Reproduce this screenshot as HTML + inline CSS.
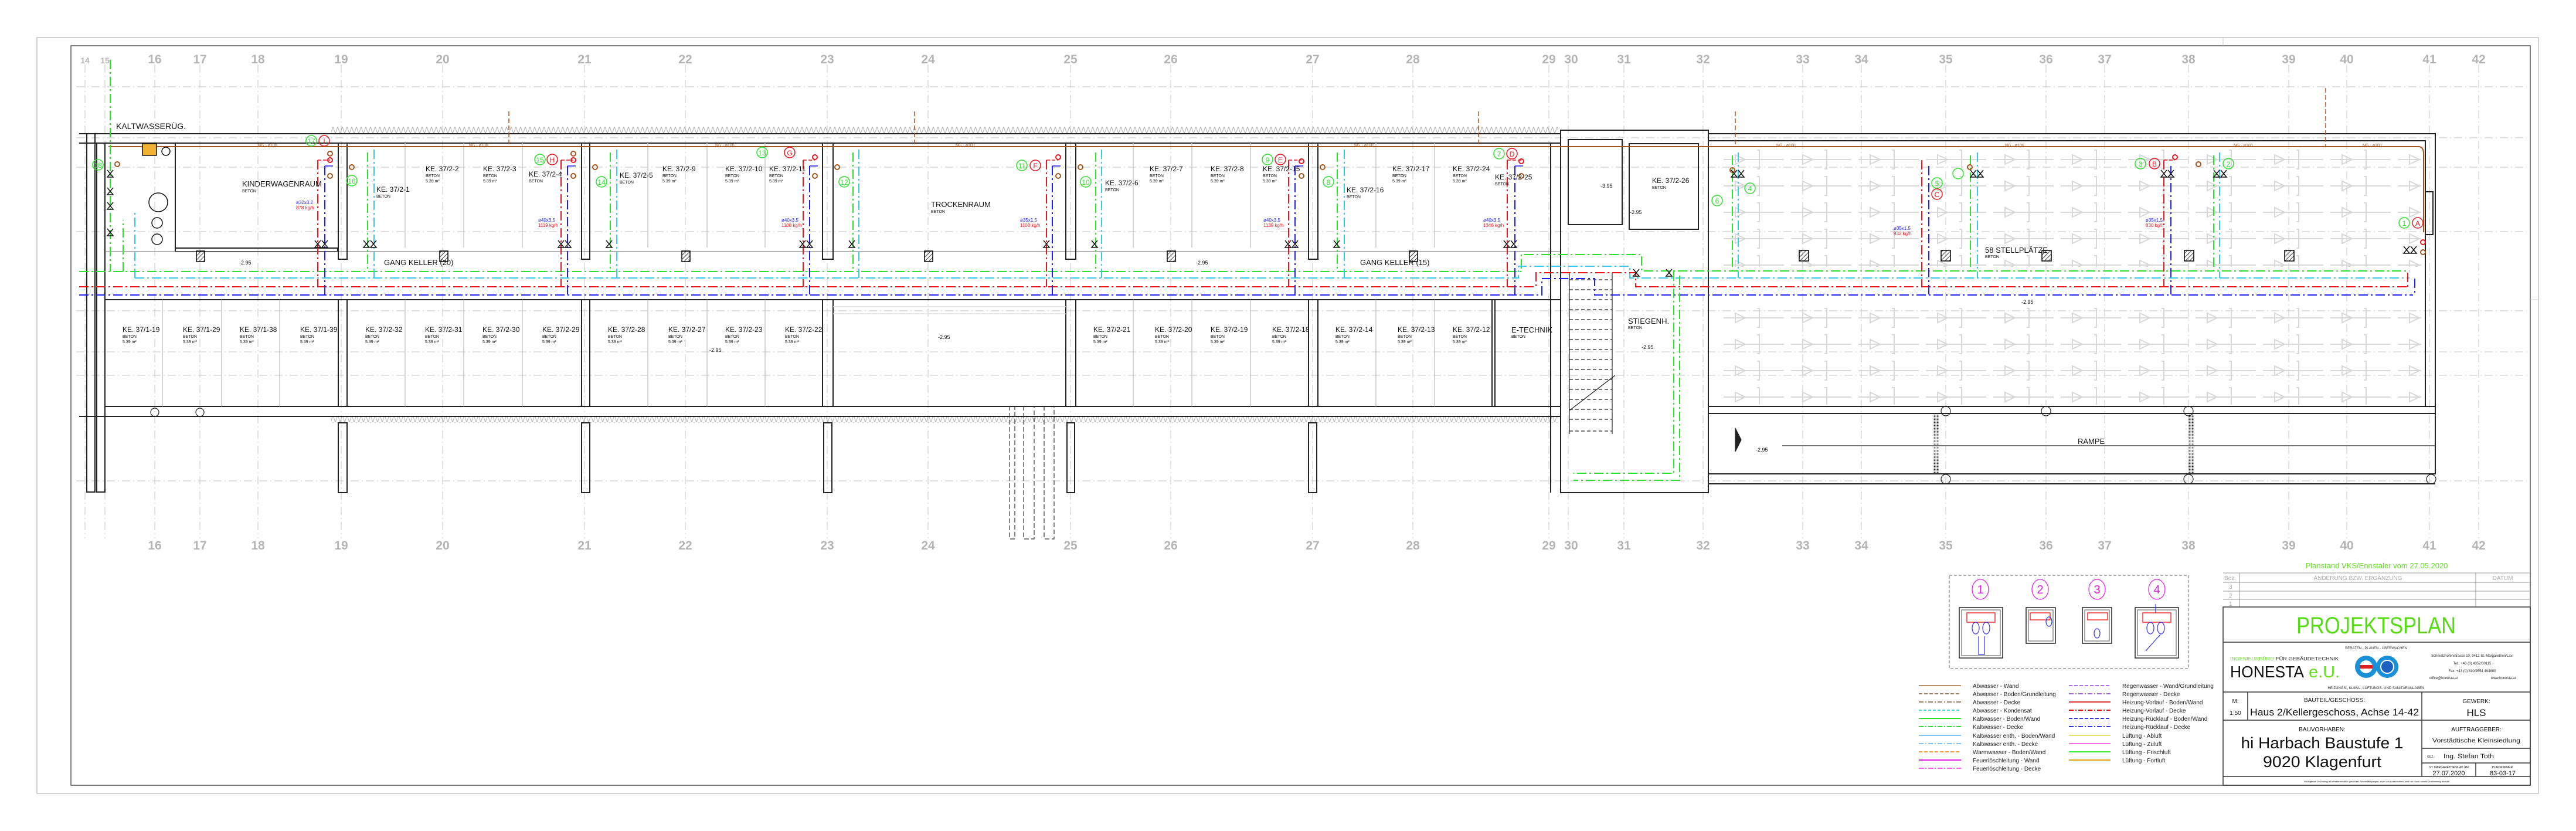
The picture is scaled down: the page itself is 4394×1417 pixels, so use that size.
<!DOCTYPE html>
<html><head><meta charset="utf-8"><style>
html,body{margin:0;padding:0;background:#fff;}
svg{display:block;font-family:"Liberation Sans",sans-serif;}
</style></head><body>
<svg width="4394" height="1417" viewBox="0 0 4394 1417" xmlns="http://www.w3.org/2000/svg">
<defs>
<pattern id="zz" x="0" y="216" width="8" height="12" patternUnits="userSpaceOnUse"><polyline points="0,0 4,12 8,0" fill="none" stroke="#aaa" stroke-width="1"/></pattern>
<pattern id="stall" x="2935" y="250" width="115" height="45" patternUnits="userSpaceOnUse">
<g fill="none" stroke="#d8d8d8" stroke-width="2"><line x1="5" y1="22" x2="108" y2="22"/><polygon points="25,14 25,30 42,22"/><polyline points="62,6 66,6 66,38 62,38"/></g></pattern>
<pattern id="hatch" width="5" height="5" patternUnits="userSpaceOnUse" patternTransform="rotate(45)"><line x1="0" y1="0" x2="0" y2="5" stroke="#000" stroke-width="1.5"/></pattern>
</defs>
<rect width="4394" height="1417" fill="#fff"/>
<!-- frames -->
<rect x="63" y="64" width="4267" height="1289" fill="none" stroke="#d0d0d0" stroke-width="2"/>
<rect x="121" y="78" width="4195" height="1261" fill="none" stroke="#555" stroke-width="1.5"/>
<line x1="4316" y1="511" x2="4330" y2="511" stroke="#ccc"/>
<line x1="3792" y1="64" x2="3792" y2="78" stroke="#ccc"/>

<!-- grid lines -->
<g stroke="#cfcfcf" stroke-width="1.2" stroke-dasharray="14,5,2,5" fill="none">
<path d="M145 110V918M179 110V918M264 110V918M341 110V918M440 110V918M582 110V918M755 110V918M997 110V918M1169 110V918M1411 110V918M1583 110V918M1826 110V918M1997 110V918M2239 110V918M2410 110V918M2642 110V918M2675 110V918M2770 110V918M2905 110V918M3075 110V918M3175 110V918M3319 110V918M3490 110V918M3590 110V918M3733 110V918M3904 110V918M4003 110V918M4144 110V918M4228 110V918"/>
<path d="M130 148H4310M130 235H4310M130 285H4310M130 395H4310M130 530H4310M130 600H4310M130 640H4310M130 820H4310"/>
</g>
<g fill="#b4b4b4" font-size="21" font-weight="bold" text-anchor="middle">
<text x="145" y="108" font-size="14">14</text><text x="179" y="108" font-size="14">15</text>
<text x="264" y="108">16</text><text x="341" y="108">17</text><text x="440" y="108">18</text><text x="582" y="108">19</text><text x="755" y="108">20</text><text x="997" y="108">21</text><text x="1169" y="108">22</text><text x="1411" y="108">23</text><text x="1583" y="108">24</text><text x="1826" y="108">25</text><text x="1997" y="108">26</text><text x="2239" y="108">27</text><text x="2410" y="108">28</text><text x="2642" y="108">29</text><text x="2680" y="108">30</text><text x="2770" y="108">31</text><text x="2905" y="108">32</text><text x="3075" y="108">33</text><text x="3175" y="108">34</text><text x="3319" y="108">35</text><text x="3490" y="108">36</text><text x="3590" y="108">37</text><text x="3733" y="108">38</text><text x="3904" y="108">39</text><text x="4003" y="108">40</text><text x="4144" y="108">41</text><text x="4228" y="108">42</text>
<text x="264" y="937">16</text><text x="341" y="937">17</text><text x="440" y="937">18</text><text x="582" y="937">19</text><text x="755" y="937">20</text><text x="997" y="937">21</text><text x="1169" y="937">22</text><text x="1411" y="937">23</text><text x="1583" y="937">24</text><text x="1826" y="937">25</text><text x="1997" y="937">26</text><text x="2239" y="937">27</text><text x="2410" y="937">28</text><text x="2642" y="937">29</text><text x="2680" y="937">30</text><text x="2770" y="937">31</text><text x="2905" y="937">32</text><text x="3075" y="937">33</text><text x="3175" y="937">34</text><text x="3319" y="937">35</text><text x="3490" y="937">36</text><text x="3590" y="937">37</text><text x="3733" y="937">38</text><text x="3904" y="937">39</text><text x="4003" y="937">40</text><text x="4144" y="937">41</text><text x="4228" y="937">42</text>
</g>

<!-- parking stall symbols -->
<rect x="2935" y="250" width="1195" height="205" fill="url(#stall)"/>
<rect x="2935" y="520" width="1195" height="170" fill="url(#stall)"/>

<!-- hatch bands -->
<rect x="565" y="216" width="2093" height="12" fill="url(#zz)"/>
<rect x="565" y="710" width="2093" height="11" fill="url(#zz)"/>

<!-- walls -->
<g fill="none" stroke="#222" stroke-width="2">
<path d="M135 228H2662M135 244H2662"/>
<path d="M148 228V839H162V228M165 244V839H179V244"/>
<path d="M299 244V423H304M299 423H576V429H299Z"/>
<path d="M179 429H2662" stroke="#888" stroke-width="1.2"/>
<path d="M179 511H2662"/>
<path d="M179 693H2662M135 710H2662"/>
<path d="M577 244V442H592V244M992 244V442H1006V244M1403 244V442H1421V244M1818 244V442H1835V244M2232 244V442H2248V244"/>
<path d="M577 511V693M592 511V693M992 511V693M1006 511V693M1403 511V693M1421 511V693M1818 511V693M1835 511V693M2232 511V693M2248 511V693M2545 511V693M2550 511V693"/>
<path d="M2645 244V840M2662 222V840H2914V222Z"/>
<path d="M2675 238H2767V383H2675ZM2779 245H2897V391H2779Z"/>
<path d="M2914 228H4154V693H2914M2914 240H4137V693M2914 705H4154M2914 825H4154M2914 808H4154V693"/>
<path d="M577 721V840H592V721ZM992 721V840H1006V721ZM1405 721V840H1419V721ZM1820 721V840H1833V721ZM2232 721V840H2246V721Z"/>
<path d="M4137 327H4150V400H4137"/>
</g>
<g stroke="#222" stroke-width="1.2" fill="none">
<path d="M3040 760H4154"/>
<path d="M3300 705V808M3305 705V808M3735 705V808M3740 705V808" stroke-width="3" stroke-dasharray="1,1.5"/>
<path d="M2677 477H2750M2677 494H2750M2677 511H2750M2677 528H2750M2677 545H2750M2677 562H2750M2677 579H2750M2677 596H2750M2677 613H2750M2677 630H2750M2677 647H2750M2677 664H2750M2677 681H2750M2677 698H2750M2677 715H2750M2677 735H2750" stroke-dasharray="6,4"/>
<path d="M2677 465V740M2750 465V740M2677 700L2755 640"/>
<circle cx="3319" cy="701" r="8"/><circle cx="3490" cy="701" r="8"/><circle cx="3733" cy="701" r="8"/><circle cx="3319" cy="817" r="8"/><circle cx="3733" cy="817" r="8"/><circle cx="4147" cy="817" r="8"/><circle cx="264" cy="703" r="7"/><circle cx="341" cy="703" r="7"/>
<path d="M2960 730V770L2970 750Z" fill="#222"/>
</g>
<!-- room partitions light -->
<g stroke="#c8c8c8" stroke-width="1.5">
<path d="M691 244V422M791 244V422M891 244V422M1105 244V422M1206 244V422M1305 244V422M1933 244V422M2033 244V422M2133 244V422M2347 244V422M2447 244V422"/>
<path d="M277 511V693M378 511V693M477 511V693M691 511V693M791 511V693M891 511V693M1105 511V693M1206 511V693M1305 511V693M1933 511V693M2033 511V693M2133 511V693M2347 511V693M2447 511V693"/>
<path d="M1421 523H1818M1421 535H1818" stroke="#ddd"/>
</g>
<!-- leerrohr -->
<g fill="none" stroke="#333" stroke-width="1.2" stroke-dasharray="8,4">
<path d="M1722 692V919H1731V692M1746 692V919H1764V692M1781 692V919H1798V692"/>
</g>
<!-- shafts -->
<g fill="url(#hatch)" stroke="#000" stroke-width="1.5">
<rect x="335" y="428" width="14" height="18"/><rect x="750" y="428" width="14" height="18"/><rect x="1163" y="428" width="14" height="18"/><rect x="1577" y="428" width="14" height="18"/><rect x="1991" y="428" width="14" height="18"/><rect x="2404" y="428" width="14" height="18"/><rect x="3069" y="427" width="16" height="18"/><rect x="3311" y="427" width="16" height="18"/><rect x="3483" y="427" width="16" height="18"/><rect x="3726" y="427" width="16" height="18"/><rect x="3897" y="427" width="16" height="18"/>
</g>

<!-- pipes: brown top -->
<path d="M185 250H4125Q4134 250 4134 262V396" fill="none" stroke="#a0561e" stroke-width="2"/>
<g fill="none" stroke="#a0561e" stroke-width="1.5" stroke-dasharray="8,4"><path d="M868 190V250M1560 190V250M2522 190V250M2960 190V250M3967 150V250"/></g>
<!-- corridor lines -->
<g fill="none" stroke-width="2" stroke-dasharray="16,5,3,5">
<path d="M135 463H2595V434H2800V462H2914H4110" stroke="#2ee02e"/>
<path d="M230 474H2590V454H2780V474H4110" stroke="#3cc8ea"/>
<path d="M135 489H2620V465H2790V489H4110" stroke="#e8141e"/>
<path d="M135 503H2630V475H2720V503H4116" stroke="#1e1ef0"/>
<path d="M2595 880" stroke="none"/>
<!-- risers -->
<path d="M542 273V489M957 273V489M1370 273V489M1785 273V489M2198 273V489M2571 273V489M3278 273V489M3691 273V489M4107 465V489" stroke="#e8141e"/>
<path d="M554 283V503M968 283V503M1381 283V503M1795 283V503M2209 283V503M2584 283V503M3290 283V503M3703 283V503M4119 475V503" stroke="#1e1ef0"/>
<path d="M188 102V463M627 260V463M1041 260V463M1455 260V463M1869 260V463M2281 260V463M2955 265V463M3361 265V463M3776 265V463M2855 463V807H2684M2865 470V819H2684" stroke="#2ee02e"/>
<path d="M638 255V474M1052 255V474M1465 255V474M1879 255V474M2293 255V474M2965 260V474M3373 260V474M3786 260V474M230 474V360" stroke="#3cc8ea"/>
<path d="M210 463V375" stroke="#2ee02e"/>
</g>
<g fill="none" stroke-width="1.6">
<path d="M542 273H563M957 273H978M1370 273H1390M1785 273H1805M2198 273H2220M2571 273H2595M3691 273H3710" stroke="#e8141e" stroke-dasharray="6,3"/>
<path d="M554 283H568M968 283H982M1381 283H1395M1795 283H1809M2209 283H2223M2584 283H2598" stroke="#1e1ef0"/>
</g>
<!-- small valves/ring markers -->
<g fill="none" stroke-width="2">
<g stroke="#e8141e"><circle cx="563" cy="273" r="4"/><circle cx="978" cy="273" r="4"/><circle cx="1390" cy="268" r="4"/><circle cx="1805" cy="268" r="4"/><circle cx="2220" cy="275" r="4"/><circle cx="2595" cy="275" r="4"/><circle cx="3710" cy="268" r="4"/><circle cx="4133" cy="413" r="4"/></g>
<g stroke="#a0561e"><circle cx="563" cy="262" r="4"/><circle cx="563" cy="300" r="4"/><circle cx="978" cy="262" r="4"/><circle cx="978" cy="300" r="4"/><circle cx="1390" cy="300" r="4"/><circle cx="1805" cy="300" r="4"/><circle cx="2220" cy="300" r="4"/><circle cx="2595" cy="300" r="4"/><circle cx="200" cy="280" r="4"/><circle cx="600" cy="285" r="4"/><circle cx="1015" cy="285" r="4"/><circle cx="1428" cy="285" r="4"/><circle cx="1843" cy="285" r="4"/><circle cx="2256" cy="285" r="4"/><circle cx="2955" cy="290" r="4"/><circle cx="3360" cy="285" r="4"/><circle cx="3750" cy="280" r="4"/><circle cx="4133" cy="430" r="4"/></g>
</g>
<g stroke="#111" stroke-width="1.5" fill="none">
<path d="M537 410l10 12h-10l10-12M549 410l10 12h-10l10-12M952 410l10 12h-10l10-12M964 410l10 12h-10l10-12M1364 410l10 12h-10l10-12M1376 410l10 12h-10l10-12M1780 410l10 12h-10l10-12M2192 410l10 12h-10l10-12M2204 410l10 12h-10l10-12M2565 410l10 12h-10l10-12M2577 410l10 12h-10l10-12M3686 290l10 12h-10l10-12M3698 290l10 12h-10l10-12M4100 420l10 12h-10l10-12M4112 420l10 12h-10l10-12M620 410l10 12h-10l10-12M632 410l10 12h-10l10-12M1034 410l10 12h-10l10-12M1448 410l10 12h-10l10-12M1862 410l10 12h-10l10-12M2275 410l10 12h-10l10-12M2953 290l10 12h-10l10-12M2965 290l10 12h-10l10-12M3361 290l10 12h-10l10-12M3373 290l10 12h-10l10-12M3776 290l10 12h-10l10-12M3788 290l10 12h-10l10-12M2842 459l10 12h-10l10-12M2786 459l10 12h-10l10-12"/>
<path d="M183 290l10 12h-10l10-12M183 320l10 12h-10l10-12M183 345l10 12h-10l10-12M183 390l10 12h-10l10-12"/>
<circle cx="270" cy="345" r="16"/><circle cx="268" cy="380" r="9"/><circle cx="268" cy="408" r="9"/><circle cx="283" cy="258" r="7"/>
<rect x="243" y="245" width="24" height="20" fill="#f0b030"/>
</g>
<!-- circled markers -->
<g fill="none" stroke-width="1.5" font-size="14" text-anchor="middle">
<g stroke="#2ee02e"><circle cx="531" cy="240" r="9"/><circle cx="921" cy="272" r="9"/><circle cx="1026" cy="310" r="9"/><circle cx="1300" cy="260" r="9"/><circle cx="1440" cy="310" r="9"/><circle cx="1743" cy="282" r="9"/><circle cx="1852" cy="310" r="9"/><circle cx="2162" cy="272" r="9"/><circle cx="2266" cy="310" r="9"/><circle cx="2557" cy="262" r="9"/><circle cx="2929" cy="342" r="9"/><circle cx="2985" cy="321" r="9"/><circle cx="3304" cy="312" r="9"/><circle cx="3340" cy="296" r="9"/><circle cx="3651" cy="279" r="9"/><circle cx="3801" cy="279" r="9"/><circle cx="4101" cy="380" r="9"/><circle cx="600" cy="308" r="9"/><circle cx="167" cy="281" r="9"/></g>
<g stroke="#e8141e"><circle cx="553" cy="240" r="9"/><circle cx="942" cy="272" r="9"/><circle cx="1347" cy="260" r="9"/><circle cx="1766" cy="282" r="9"/><circle cx="2184" cy="272" r="9"/><circle cx="2579" cy="262" r="9"/><circle cx="3304" cy="331" r="9"/><circle cx="3675" cy="279" r="9"/><circle cx="4124" cy="380" r="9"/></g>
</g>
<g font-size="12" text-anchor="middle">
<g fill="#2ee02e"><text x="531" y="245">17</text><text x="921" y="277">15</text><text x="1026" y="315">14</text><text x="1300" y="265">13</text><text x="1440" y="315">12</text><text x="1743" y="287">11</text><text x="1852" y="315">10</text><text x="2162" y="277">9</text><text x="2266" y="315">8</text><text x="2557" y="267">7</text><text x="2929" y="347">6</text><text x="2985" y="326">4</text><text x="3304" y="317">5</text><text x="3651" y="284">3</text><text x="3801" y="284">2</text><text x="4101" y="385">1</text><text x="600" y="313">16</text><text x="167" y="286">18</text></g>
<g fill="#e8141e"><text x="553" y="245">I</text><text x="942" y="277">H</text><text x="1347" y="265">G</text><text x="1766" y="287">F</text><text x="2184" y="277">E</text><text x="2579" y="267">D</text><text x="3304" y="336">C</text><text x="3675" y="284">B</text><text x="4124" y="385">A</text></g>
</g>

<!-- room labels -->
<g font-size="12" fill="#111">
<text x="413" y="318" font-size="13">KINDERWAGENRAUM</text>
<text x="642" y="327">KE. 37/2-1</text><text x="726" y="292">KE. 37/2-2</text><text x="824" y="292">KE. 37/2-3</text><text x="902" y="301">KE. 37/2-4</text><text x="1057" y="303">KE. 37/2-5</text><text x="1130" y="292">KE. 37/2-9</text><text x="1237" y="292">KE. 37/2-10</text><text x="1312" y="292">KE. 37/2-11</text>
<text x="1588" y="353" font-size="13">TROCKENRAUM</text>
<text x="1885" y="316">KE. 37/2-6</text><text x="1961" y="292">KE. 37/2-7</text><text x="2065" y="292">KE. 37/2-8</text><text x="2154" y="292">KE. 37/2-15</text><text x="2297" y="328">KE. 37/2-16</text><text x="2375" y="292">KE. 37/2-17</text><text x="2478" y="292">KE. 37/2-24</text><text x="2550" y="306">KE. 37/2-25</text><text x="2818" y="312">KE. 37/2-26</text>
<text x="655" y="452" font-size="13">GANG KELLER (20)</text><text x="2320" y="452" font-size="13">GANG KELLER (15)</text>
<text x="2777" y="552" font-size="13">STIEGENH.</text><text x="2578" y="567" font-size="13">E-TECHNIK</text>
<text x="3386" y="431" font-size="13">58 STELLPLÄTZE</text><text x="3544" y="757" font-size="13">RAMPE</text>
<text x="198" y="220" font-size="14">KALTWASSERÜG.</text>
<text x="209" y="566">KE. 37/1-19</text><text x="312" y="566">KE. 37/1-29</text><text x="409" y="566">KE. 37/1-38</text><text x="512" y="566">KE. 37/1-39</text><text x="623" y="566">KE. 37/2-32</text><text x="725" y="566">KE. 37/2-31</text><text x="823" y="566">KE. 37/2-30</text><text x="925" y="566">KE. 37/2-29</text><text x="1037" y="566">KE. 37/2-28</text><text x="1140" y="566">KE. 37/2-27</text><text x="1237" y="566">KE. 37/2-23</text><text x="1339" y="566">KE. 37/2-22</text><text x="1865" y="566">KE. 37/2-21</text><text x="1970" y="566">KE. 37/2-20</text><text x="2065" y="566">KE. 37/2-19</text><text x="2170" y="566">KE. 37/2-18</text><text x="2278" y="566">KE. 37/2-14</text><text x="2384" y="566">KE. 37/2-13</text><text x="2478" y="566">KE. 37/2-12</text>
</g>
<g font-size="7" fill="#111">
<text x="413" y="328">BETON</text><text x="642" y="337">BETON</text><text x="726" y="302">BETON</text><text x="824" y="302">BETON</text><text x="902" y="311">BETON</text><text x="1057" y="313">BETON</text><text x="1130" y="302">BETON</text><text x="1237" y="302">BETON</text><text x="1312" y="302">BETON</text><text x="1588" y="363">BETON</text><text x="1885" y="326">BETON</text><text x="1961" y="302">BETON</text><text x="2065" y="302">BETON</text><text x="2154" y="302">BETON</text><text x="2297" y="338">BETON</text><text x="2375" y="302">BETON</text><text x="2478" y="302">BETON</text><text x="2550" y="316">BETON</text><text x="2818" y="322">BETON</text><text x="3386" y="440">BETON</text>
<text x="209" y="576">BETON</text><text x="312" y="576">BETON</text><text x="409" y="576">BETON</text><text x="512" y="576">BETON</text><text x="623" y="576">BETON</text><text x="725" y="576">BETON</text><text x="823" y="576">BETON</text><text x="925" y="576">BETON</text><text x="1037" y="576">BETON</text><text x="1140" y="576">BETON</text><text x="1237" y="576">BETON</text><text x="1339" y="576">BETON</text><text x="1865" y="576">BETON</text><text x="1970" y="576">BETON</text><text x="2065" y="576">BETON</text><text x="2170" y="576">BETON</text><text x="2278" y="576">BETON</text><text x="2384" y="576">BETON</text><text x="2478" y="576">BETON</text><text x="2578" y="576">BETON</text><text x="2777" y="561">BETON</text>
<text x="209" y="585">5.39 m²</text><text x="312" y="585">5.39 m²</text><text x="409" y="585">5.39 m²</text><text x="512" y="585">5.39 m²</text><text x="623" y="585">5.39 m²</text><text x="725" y="585">5.39 m²</text><text x="823" y="585">5.39 m²</text><text x="925" y="585">5.39 m²</text><text x="1037" y="585">5.39 m²</text><text x="1140" y="585">5.39 m²</text><text x="1237" y="585">5.39 m²</text><text x="1339" y="585">5.39 m²</text><text x="1865" y="585">5.39 m²</text><text x="1970" y="585">5.39 m²</text><text x="2065" y="585">5.39 m²</text><text x="2170" y="585">5.39 m²</text><text x="2278" y="585">5.39 m²</text><text x="2384" y="585">5.39 m²</text><text x="2478" y="585">5.39 m²</text>
<text x="726" y="311">5.39 m²</text><text x="824" y="311">5.39 m²</text><text x="1130" y="311">5.39 m²</text><text x="1237" y="311">5.39 m²</text><text x="1312" y="311">5.39 m²</text><text x="1961" y="311">5.39 m²</text><text x="2065" y="311">5.39 m²</text><text x="2154" y="311">5.39 m²</text><text x="2375" y="311">5.39 m²</text><text x="2478" y="311">5.39 m²</text>
</g>
<g font-size="9" fill="#111"><text x="408" y="451">-2.95</text><text x="1210" y="600">-2.95</text><text x="1600" y="578">-2.95</text><text x="2040" y="451">-2.95</text><text x="2780" y="365">-2.95</text><text x="2730" y="320">-3.95</text><text x="2800" y="595">-2.95</text><text x="3448" y="518">-2.95</text><text x="2995" y="770">-2.95</text></g>
<g font-size="8" fill="#1e1ef0"><text x="505" y="348">ø32x3.2</text><text x="918" y="378">ø40x3.5</text><text x="1333" y="378">ø40x3.5</text><text x="1740" y="378">ø35x1.5</text><text x="2155" y="378">ø40x3.5</text><text x="2530" y="378">ø40x3.5</text><text x="3230" y="392">ø35x1.5</text><text x="3660" y="378">ø35x1.5</text></g>
<g font-size="8" fill="#e8141e"><text x="505" y="357">878 kg/h</text><text x="918" y="387">1119 kg/h</text><text x="1333" y="387">1108 kg/h</text><text x="1740" y="387">1108 kg/h</text><text x="2155" y="387">1139 kg/h</text><text x="2530" y="387">1346 kg/h</text><text x="3230" y="401">932 kg/h</text><text x="3660" y="387">830 kg/h</text></g>
<g font-size="7" fill="#a0561e"><text x="440" y="250">NG - ø100</text><text x="800" y="250">NG - ø100</text><text x="1220" y="250">NG - ø100</text><text x="1630" y="250">NG - ø100</text><text x="2310" y="250">NG - ø100</text><text x="3030" y="250">NG - ø100</text><text x="3420" y="250">NG - ø100</text><text x="3810" y="250">NG - ø100</text><text x="4030" y="250">NG - ø100</text></g>

<!-- legend box with cabinets -->
<rect x="3325" y="981" width="408" height="159" fill="none" stroke="#999" stroke-width="1.5" stroke-dasharray="5,3"/>
<g fill="none" stroke="#e020e0" stroke-width="1.3"><ellipse cx="3378" cy="1005" rx="14" ry="17"/><ellipse cx="3480" cy="1005" rx="14" ry="17"/><ellipse cx="3577" cy="1005" rx="14" ry="17"/><ellipse cx="3679" cy="1005" rx="14" ry="17"/></g>
<g fill="#e020e0" font-size="20" text-anchor="middle"><text x="3378" y="1012">1</text><text x="3480" y="1012">2</text><text x="3577" y="1012">3</text><text x="3679" y="1012">4</text></g>
<g fill="none" stroke="#222" stroke-width="1.5">
<rect x="3342" y="1036" width="74" height="86"/><rect x="3346" y="1040" width="66" height="78" stroke="#888"/>
<rect x="3456" y="1036" width="50" height="61"/><rect x="3460" y="1040" width="42" height="53" stroke="#888"/>
<rect x="3552" y="1036" width="50" height="61"/><rect x="3556" y="1040" width="42" height="53" stroke="#888"/>
<rect x="3642" y="1036" width="74" height="86"/><rect x="3646" y="1040" width="66" height="78" stroke="#888"/>
</g>
<g fill="none" stroke="#f03030" stroke-width="1.5"><rect x="3355" y="1045" width="48" height="16"/><rect x="3463" y="1045" width="34" height="12"/><rect x="3561" y="1045" width="34" height="12"/><rect x="3655" y="1045" width="48" height="16"/></g>
<g fill="none" stroke="#3030f0" stroke-width="1.2"><ellipse cx="3370" cy="1071" rx="6" ry="10"/><ellipse cx="3388" cy="1071" rx="6" ry="10"/><path d="M3375 1085V1116H3385V1085"/><ellipse cx="3495" cy="1060" rx="5" ry="8"/><ellipse cx="3577" cy="1080" rx="5" ry="8"/><ellipse cx="3668" cy="1071" rx="6" ry="10"/><ellipse cx="3686" cy="1071" rx="6" ry="10"/><path d="M3685 1082L3660 1110M3677 1030V1045"/></g>
<!-- legend lines -->
<g fill="none" stroke-width="2">
<path d="M3273 1169H3345" stroke="#b8906a"/><path d="M3273 1183H3345" stroke="#a08060" stroke-dasharray="6,3"/><path d="M3273 1197H3345" stroke="#a08060" stroke-dasharray="8,3,2,3"/><path d="M3273 1211H3345" stroke="#3cd8f0" stroke-dasharray="5,3"/><path d="M3273 1225H3345" stroke="#2ee02e"/><path d="M3273 1239H3345" stroke="#2ee02e" stroke-dasharray="8,3,2,3"/><path d="M3273 1254H3345" stroke="#80c8f0"/><path d="M3273 1268H3345" stroke="#80c8f0" stroke-dasharray="8,3,2,3"/><path d="M3273 1282H3345" stroke="#f0a040" stroke-dasharray="6,3"/><path d="M3273 1296H3345" stroke="#e020e0"/><path d="M3273 1310H3345" stroke="#f060f0" stroke-dasharray="8,3,2,3"/>
<path d="M3529 1169H3600" stroke="#b070f0" stroke-dasharray="6,3"/><path d="M3529 1183H3600" stroke="#a060e0" stroke-dasharray="8,3,2,3"/><path d="M3529 1197H3600" stroke="#e03030"/><path d="M3529 1211H3600" stroke="#e01010" stroke-dasharray="8,3,2,3"/><path d="M3529 1225H3600" stroke="#3030f0" stroke-dasharray="6,3"/><path d="M3529 1239H3600" stroke="#3030f0" stroke-dasharray="8,3,2,3"/><path d="M3529 1254H3600" stroke="#e8e070"/><path d="M3529 1268H3600" stroke="#f070f0"/><path d="M3529 1282H3600" stroke="#30f030"/><path d="M3529 1296H3600" stroke="#e0a000"/>
</g>
<g font-size="10" fill="#222">
<text x="3365" y="1173">Abwasser - Wand</text><text x="3365" y="1187">Abwasser - Boden/Grundleitung</text><text x="3365" y="1201">Abwasser - Decke</text><text x="3365" y="1215">Abwasser - Kondensat</text><text x="3365" y="1229">Kaltwasser - Boden/Wand</text><text x="3365" y="1243">Kaltwasser - Decke</text><text x="3365" y="1258">Kaltwasser enth. - Boden/Wand</text><text x="3365" y="1272">Kaltwasser enth. - Decke</text><text x="3365" y="1286">Warmwasser - Boden/Wand</text><text x="3365" y="1300">Feuerlöschleitung - Wand</text><text x="3365" y="1314">Feuerlöschleitung - Decke</text>
<text x="3620" y="1173">Regenwasser - Wand/Grundleitung</text><text x="3620" y="1187">Regenwasser - Decke</text><text x="3620" y="1201">Heizung-Vorlauf - Boden/Wand</text><text x="3620" y="1215">Heizung-Vorlauf - Decke</text><text x="3620" y="1229">Heizung-Rücklauf - Boden/Wand</text><text x="3620" y="1243">Heizung-Rücklauf - Decke</text><text x="3620" y="1258">Lüftung - Abluft</text><text x="3620" y="1272">Lüftung - Zuluft</text><text x="3620" y="1286">Lüftung - Frischluft</text><text x="3620" y="1300">Lüftung - Fortluft</text>
</g>

<!-- title block -->
<text x="4054" y="969" font-size="13" fill="#66dd22" text-anchor="middle">Planstand VKS/Ennstaler vom 27.05.2020</text>
<g fill="none" stroke="#999" stroke-width="1">
<path d="M3792 977H4316M3792 993H4316M3792 1008H4316M3792 1022H4316M3820 977V1035M4223 977V1035"/>
</g>
<g fill="#aaa" font-size="10"><text x="3794" y="989">Bez.</text><text x="4022" y="989" text-anchor="middle">ÄNDERUNG BZW. ERGÄNZUNG</text><text x="4269" y="989" text-anchor="middle">DATUM</text><text x="3802" y="1004">3</text><text x="3802" y="1019">2</text><text x="3802" y="1033">1</text></g>
<g fill="none" stroke="#333" stroke-width="1.5">
<rect x="3792" y="1035" width="524" height="304"/>
<path d="M3792 1095H4316M3792 1180H4316M3792 1228H4316M3792 1324H4316M3834 1180V1228M4131 1180V1324M4131 1276H4316M4131 1301H4316M4223 1301V1324"/>
</g>
<text x="4053" y="1080" font-size="40" fill="#55dd11" text-anchor="middle" textLength="272" lengthAdjust="spacingAndGlyphs">PROJEKTSPLAN</text>
<text x="4053" y="1107" font-size="6" fill="#333" text-anchor="middle">BERATEN - PLANEN - ÜBERWACHEN</text>
<text x="3804" y="1126" font-size="8" fill="#66dd22" textLength="75" lengthAdjust="spacingAndGlyphs">INGENIEURBÜRO</text>
<text x="3882" y="1126" font-size="8" fill="#222" textLength="107" lengthAdjust="spacingAndGlyphs">FÜR GEBÄUDETECHNIK</text>
<text x="3804" y="1155" font-size="28" fill="#111" textLength="126" lengthAdjust="spacingAndGlyphs">HONESTA</text>
<text x="3938" y="1155" font-size="28" fill="#66dd22" textLength="53" lengthAdjust="spacingAndGlyphs">e.U.</text>
<circle cx="4036" cy="1137" r="19" fill="#1a90d8"/><circle cx="4036" cy="1137" r="11" fill="#fff"/><rect x="4025" y="1134" width="22" height="6" fill="#e02020"/>
<circle cx="4072" cy="1137" r="19" fill="#1a90d8"/><circle cx="4072" cy="1137" r="11" fill="#1a60c0" stroke="#fff" stroke-width="2"/>
<g font-size="6" fill="#222" text-anchor="middle"><text x="4217" y="1120">Schmelzhofenstrasse 10, 9412 St. Margarethen/Lav.</text><text x="4217" y="1133">Tel.: +43 (0) 4352/30115</text><text x="4217" y="1146">Fax: +43 (0) 810/9554 494800</text><text x="4168" y="1158">office@honesta.at</text><text x="4270" y="1158">www.honesta.at</text>
<text x="4053" y="1175">HEIZUNGS-, KLIMA-, LÜFTUNGS- UND SANITÄRANLAGEN</text></g>
<g fill="#111" text-anchor="middle">
<text x="3813" y="1199" font-size="10">M:</text><text x="3813" y="1219" font-size="10">1:50</text>
<text x="3982" y="1197" font-size="10">BAUTEIL/GESCHOSS:</text>
<text x="3982" y="1220" font-size="17" textLength="288" lengthAdjust="spacingAndGlyphs">Haus 2/Kellergeschoss, Achse 14-42</text>
<text x="4224" y="1199" font-size="10">GEWERK:</text><text x="4224" y="1221" font-size="17">HLS</text>
<text x="3961" y="1247" font-size="10">BAUVORHABEN:</text>
<text x="3961" y="1276" font-size="27" textLength="277" lengthAdjust="spacingAndGlyphs">hi Harbach Baustufe 1</text>
<text x="3961" y="1308" font-size="27" textLength="202" lengthAdjust="spacingAndGlyphs">9020 Klagenfurt</text>
<text x="4224" y="1247" font-size="10">AUFTRAGGEBER:</text>
<text x="4224" y="1266" font-size="10" textLength="150" lengthAdjust="spacingAndGlyphs">Vorstädtische Kleinsiedlung</text>
<text x="4211" y="1293" font-size="11" textLength="86" lengthAdjust="spacingAndGlyphs">Ing. Stefan Toth</text>
<text x="4177" y="1310" font-size="5">ST. MARGARETHEN/LAV. AM</text><text x="4269" y="1310" font-size="5">PLANNUMMER:</text>
<text x="4177" y="1322" font-size="11">27.07.2020</text><text x="4269" y="1322" font-size="11">83-03-17</text>
<text x="4054" y="1334" font-size="4">Vorliegende Zeichnung ist urheberrechtlich geschützt. Vervielfältigungen, auch von Ausschnitten, sind nur durch unsere Zustimmung erlaubt!</text>
</g>
<text x="4140" y="1292" font-size="5" fill="#333">GEZ.:</text>
</svg>
</body></html>
